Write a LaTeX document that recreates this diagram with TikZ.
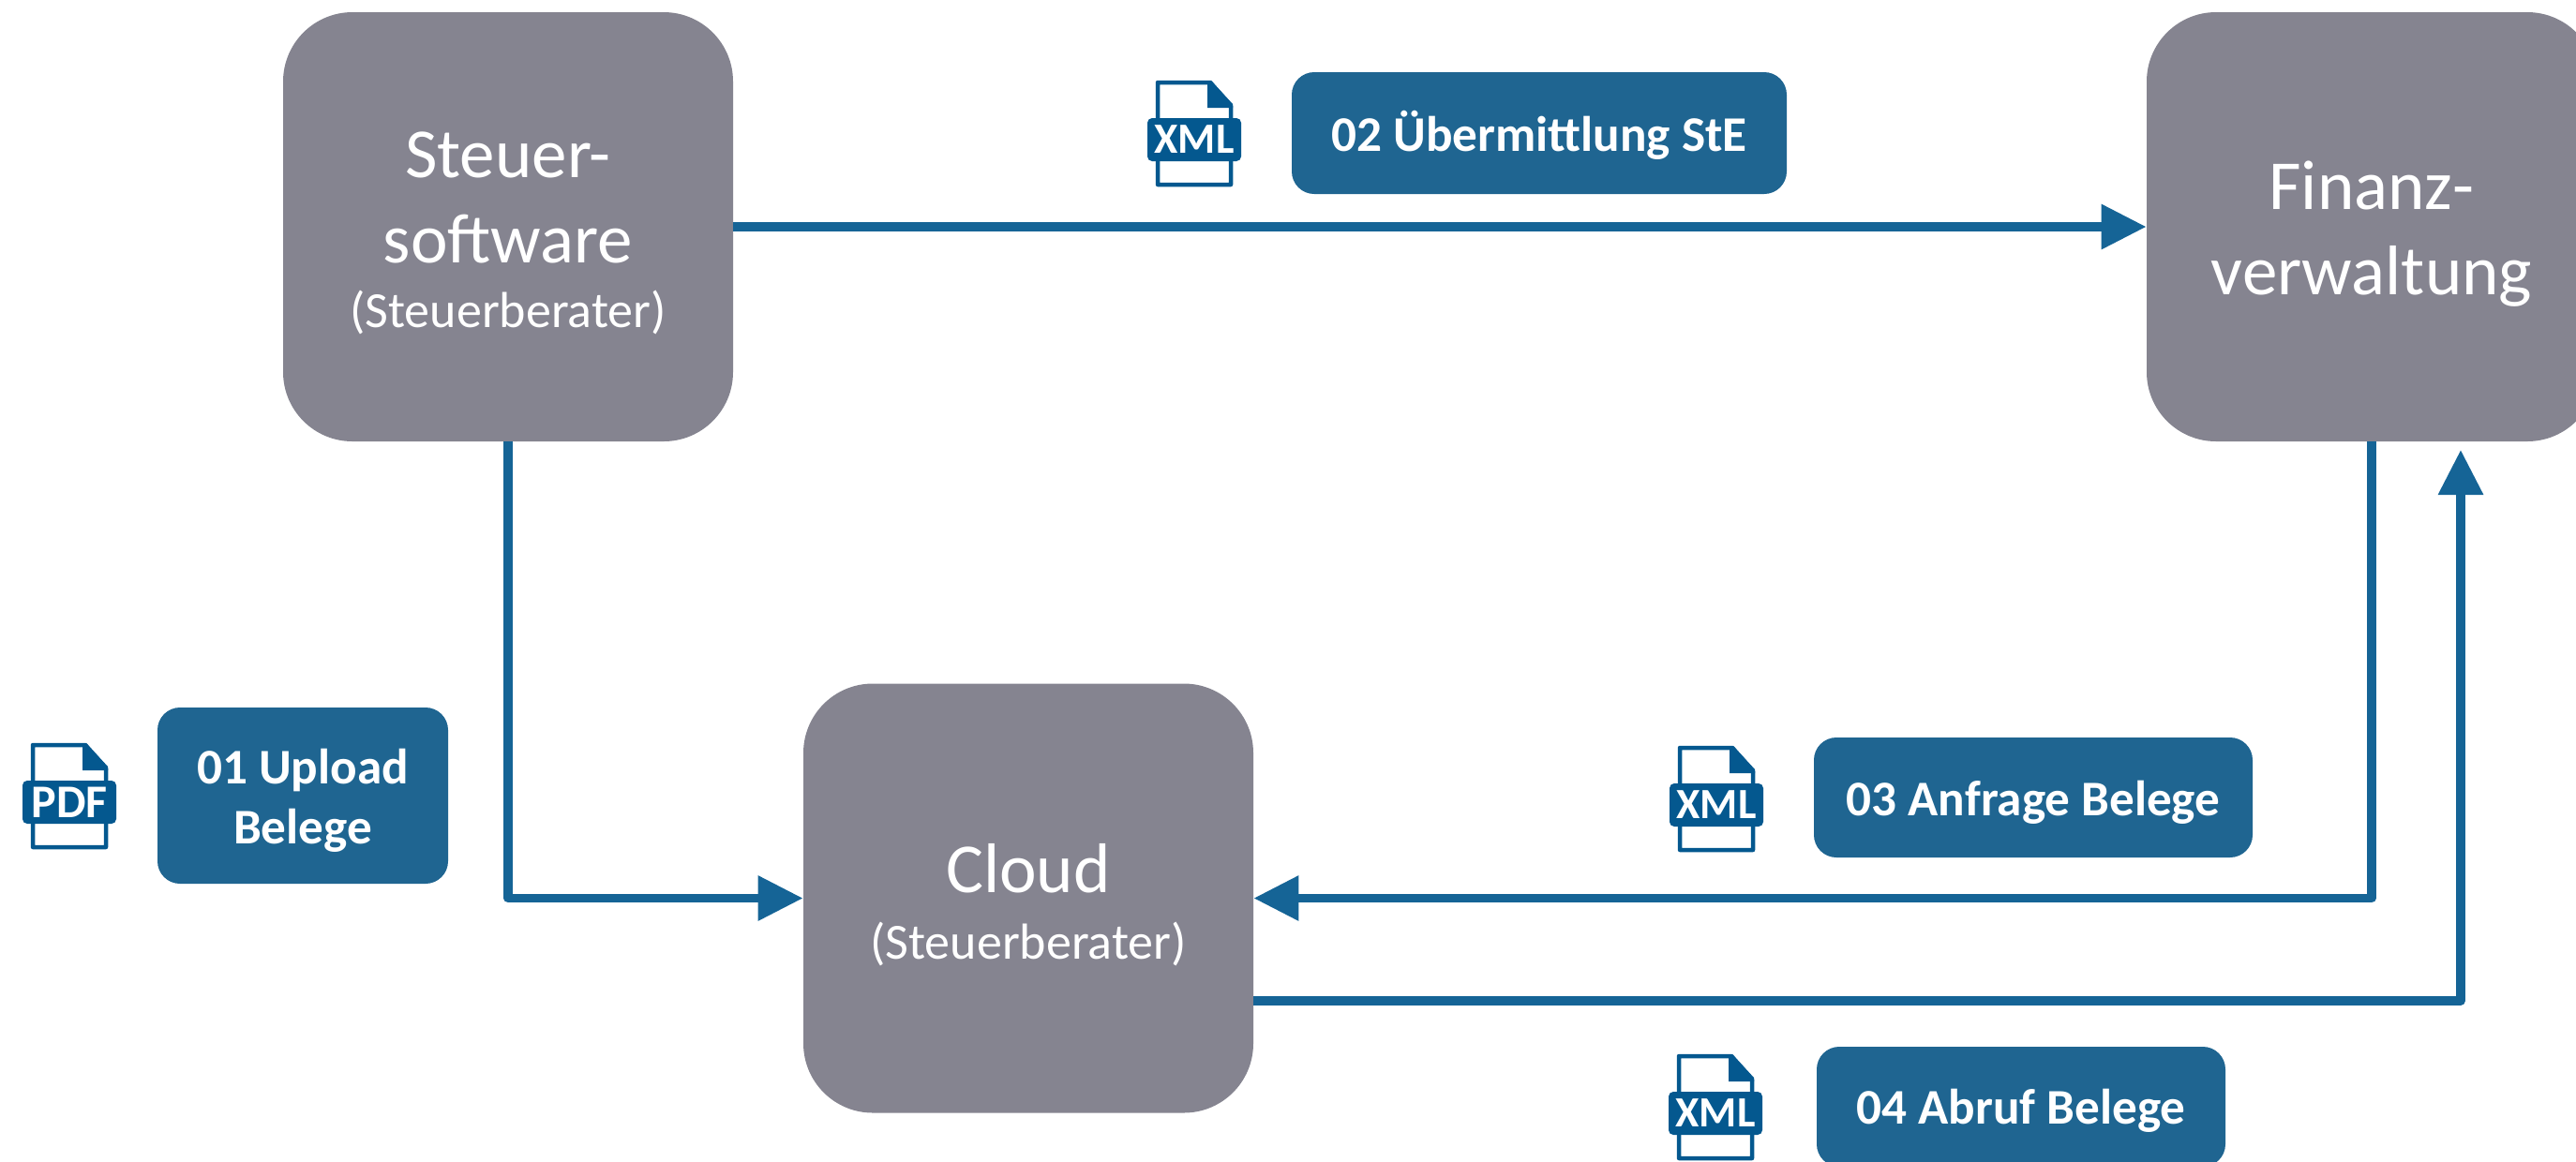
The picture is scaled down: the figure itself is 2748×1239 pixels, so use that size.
\documentclass[tikz,border=0pt]{standalone}
\usepackage{fontspec}
\setmainfont{Carlito}
\usetikzlibrary{arrows.meta}
\definecolor{boxgrey}{HTML}{858490}
\definecolor{labelblue}{HTML}{1F6591}
\definecolor{flowblue}{HTML}{156496}
\definecolor{iconblue}{HTML}{04588F}
\tikzset{
  x=0.5pt,y=-0.5pt,
  mainbox/.style={fill=boxgrey,rounded corners=37pt,inner sep=0pt,minimum width=240pt,minimum height=229pt},
  labelbox/.style={fill=labelblue,rounded corners=12pt,inner sep=0pt},
  bigtext/.style={text=white,anchor=base,inner sep=0pt,font=\fontsize{37.5}{45}\selectfont},
  subtext/.style={text=white,anchor=base,inner sep=0pt,font=\fontsize{27}{32}\selectfont},
  labeltext/.style={text=white,anchor=base,inner sep=0pt,font=\fontsize{26.6}{32}\selectfont\bfseries},
  flow/.style={draw=flowblue,line width=4.75pt,line join=round,-{Triangle[length=24pt,width=23pt]}},
  docicon/.pic={
    \fill[white,draw=iconblue,line width=2.25pt,line join=round] (11,2)--(67,2)--(89,27)--(89,111)--(11,111)--cycle;
    \fill[iconblue] (64,0)--(68,0)--(91,25)--(91,29)--(64,29)--cycle;
    \fill[iconblue,rounded corners=2.5pt] (0,40) rectangle (100,86);
    \node[text=white,inner sep=0pt,font=\bfseries] (-tag) at (50,63) {#1};
  }
}
\newcommand{\pdfsize}{\fontsize{25}{25}\selectfont}
\newcommand{\xmlsize}{\fontsize{23}{23}\selectfont}
\begin{document}
\begin{tikzpicture}
\clip (0,0) rectangle (2748,1239);
\node[mainbox] (steuer) at (542,242) {};
\node[mainbox] (finanz) at (2530,242) {};
\node[mainbox] (cloud) at (1097,958.5) {};
\node[bigtext] (t1) at (542,189) {Steuer-};
\node[bigtext] (t2) at (542,280) {software};
\node[subtext] (t3) at (542,349) {(Steuerberater)};
\node[bigtext] (t4) at (2530,223) {Finanz-};
\node[bigtext] (t5) at (2530,314) {verwaltung};
\node[bigtext] (t6) at (1097,952) {Cloud};
\node[subtext] (t7) at (1097,1023) {(Steuerberater)};

\node[labelbox,minimum width=155pt,minimum height=94pt] (l1) at (323,849) {};
\node[labelbox,minimum width=264pt,minimum height=65pt] (l2) at (1642,142) {};
\node[labelbox,minimum width=234pt,minimum height=64pt] (l3) at (2169,851) {};
\node[labelbox,minimum width=218pt,minimum height=64pt] (l4) at (2156,1181) {};
\node[labeltext] (lt1a) at (323,836) {01 Upload};
\node[labeltext] (lt1b) at (323,900) {Belege};
\node[labeltext] (lt2) at (1642,161) {02 Übermittlung StE};
\node[labeltext] (lt3) at (2169,870) {03 Anfrage Belege};
\node[labeltext] (lt4) at (2156,1199) {04 Abruf Belege};

\pic (i1) at (24,793) {docicon={\pdfsize PDF}};
\pic (i2) at (1224,86) {docicon={\xmlsize XML}};
\pic (i3) at (1781,796) {docicon={\xmlsize XML}};
\pic (i4) at (1780,1125) {docicon={\xmlsize XML}};

\coordinate (upTip) at (2625,480);
\coordinate (lowRow) at (0,1068);
\draw[flow] (steuer.east) -- (finanz.west);
\draw[flow] (steuer.south) -- (steuer.south |- cloud.west) -- (cloud.west);
\draw[flow] (finanz.south) -- (finanz.south |- cloud.east) -- (cloud.east);
\draw[flow] (lowRow -| cloud.east) -- (lowRow -| upTip) -- (upTip);
\end{tikzpicture}
\end{document}
